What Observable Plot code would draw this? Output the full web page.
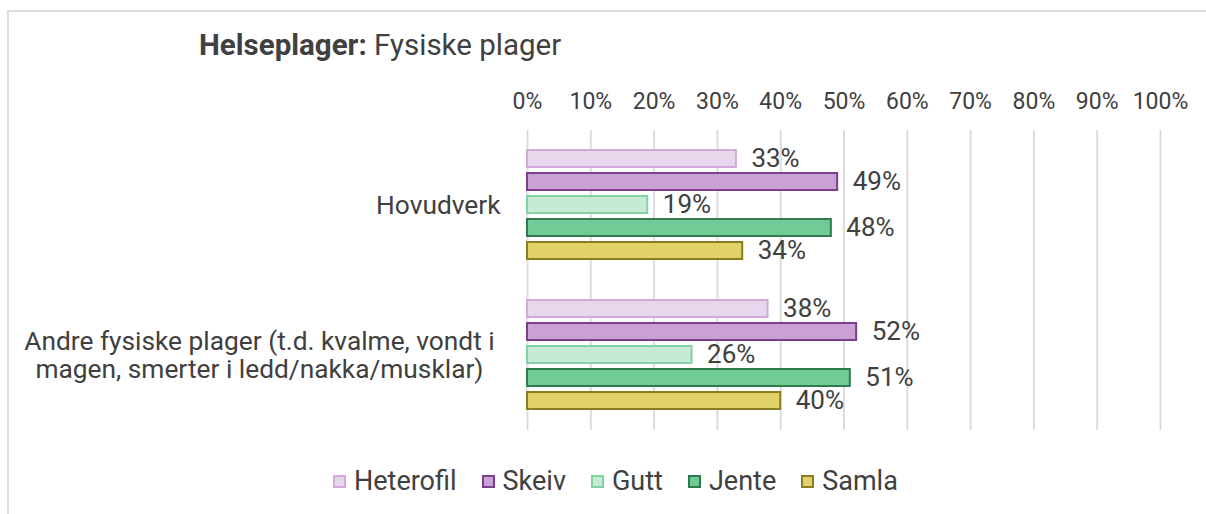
<!DOCTYPE html>
<html>
<head>
<meta charset="utf-8">
<script src="https://cdn.jsdelivr.net/npm/d3@7"></script>
<script src="https://cdn.jsdelivr.net/npm/@observablehq/plot@0.6"></script>
<style>
  html, body { margin: 0; padding: 0; background: #fff; width: 1206px; height: 514px; overflow: hidden; }
  body { position: relative; font-family: Roboto, "Noto Sans", sans-serif; color: #404040; }
  #frame { position: absolute; left: 7px; top: 10px; width: 1300px; height: 600px;
           border-left: 2px solid #dcdcdc; border-top: 2px solid #dcdcdc; }
  #title { position: absolute; left: 199px; top: 29px; font-size: 29.5px; line-height: 32px; white-space: nowrap; }
  #title b { font-weight: 700; }
  #chart { position: absolute; left: 0; top: 80px; }
  #legend { position: absolute; left: 333px; top: 466px; display: flex; align-items: center; gap: 25px;
            font-size: 27px; line-height: 30px; white-space: nowrap; }
  .item { display: flex; align-items: center; }
  .sw { width: 13px; height: 13px; box-sizing: border-box; border: 2px solid; margin-right: 8px; }
</style>
</head>
<body>
<div id="frame"></div>
<div id="title"><b>Helseplager:</b> Fysiske plager</div>
<div id="chart"></div>
<div id="legend"></div>
<script>
// ---- data ----
const categories = ["Hovudverk", "Andre fysiske plager (t.d. kvalme, vondt i\nmagen, smerter i ledd/nakka/musklar)"];
const series = ["Heterofil", "Skeiv", "Gutt", "Jente", "Samla"];
const heterofil = [33, 38];
const skeiv = [49, 52];
const gutt = [19, 26];
const jente = [48, 51];
const samla = [34, 40];
const xTicks = [0, 10, 20, 30, 40, 50, 60, 70, 80, 90, 100];

// ---- styles ----
const fills = ["#e8d6ed", "#caa1d5", "#c7ead7", "#70cb96", "#e0d268"];
const strokes = ["#d3a9dd", "#7b3f8c", "#83d2a3", "#2f7b4d", "#8c7d22"];

const valuesBySeries = [heterofil, skeiv, gutt, jente, samla];
const data = [];
series.forEach((s, si) => {
  categories.forEach((c, ci) => data.push({series: s, category: c, value: valuesBySeries[si][ci]}));
});

const marks = [
  Plot.gridX({ticks: xTicks, stroke: "#dcdcdc", strokeOpacity: 1, strokeWidth: 2}),
  Plot.axisX({anchor: "top", ticks: xTicks, tickSize: 0, tickPadding: 22, fontSize: 23, label: null,
              tickFormat: d => d + "%", fill: "#404040"}),
  // single-line category: right-aligned near the axis
  Plot.text(categories.filter(c => !c.includes("\n")), {fy: d => d, text: d => d, frameAnchor: "left", dx: -27,
              textAnchor: "end", fontSize: 26.3, fill: "#404040"}),
  // wrapped category: lines centred on each other, block ending near the axis
  Plot.text(categories.filter(c => c.includes("\n")), {fy: d => d, text: d => d, frameAnchor: "left", dx: -268,
              textAnchor: "middle", fontSize: 26.3, lineHeight: 1.06, fill: "#404040"})
];
series.forEach((s, i) => {
  const rows = data.filter(d => d.series === s);
  marks.push(Plot.barX(rows, {x: "value", y: "series", fy: "category",
              fill: fills[i], stroke: strokes[i], strokeWidth: 2}));
  marks.push(Plot.text(rows, {x: "value", y: "series", fy: "category", text: d => d.value + "%",
              textAnchor: "start", dx: 15, fontSize: 26, fill: "#404040"}));
});

const chart = Plot.plot({
  width: 1206,
  height: 360,
  marginLeft: 527,
  marginRight: 46,
  marginTop: 50,
  marginBottom: 10,
  style: {fontFamily: "Roboto, 'Noto Sans', sans-serif", background: "transparent"},
  x: {domain: [0, 100], axis: null, label: null},
  y: {domain: series, axis: null, paddingInner: 0.26, paddingOuter: 0.89},
  fy: {domain: categories, axis: null, padding: 0},
  facet: {label: null},
  marks
});
document.getElementById("chart").appendChild(chart);

const legend = document.getElementById("legend");
series.forEach((s, i) => {
  const item = document.createElement("div");
  item.className = "item";
  const sw = document.createElement("div");
  sw.className = "sw";
  sw.style.background = fills[i];
  sw.style.borderColor = strokes[i];
  const t = document.createElement("span");
  t.textContent = s;
  item.appendChild(sw);
  item.appendChild(t);
  legend.appendChild(item);
});
</script>
</body>
</html>
